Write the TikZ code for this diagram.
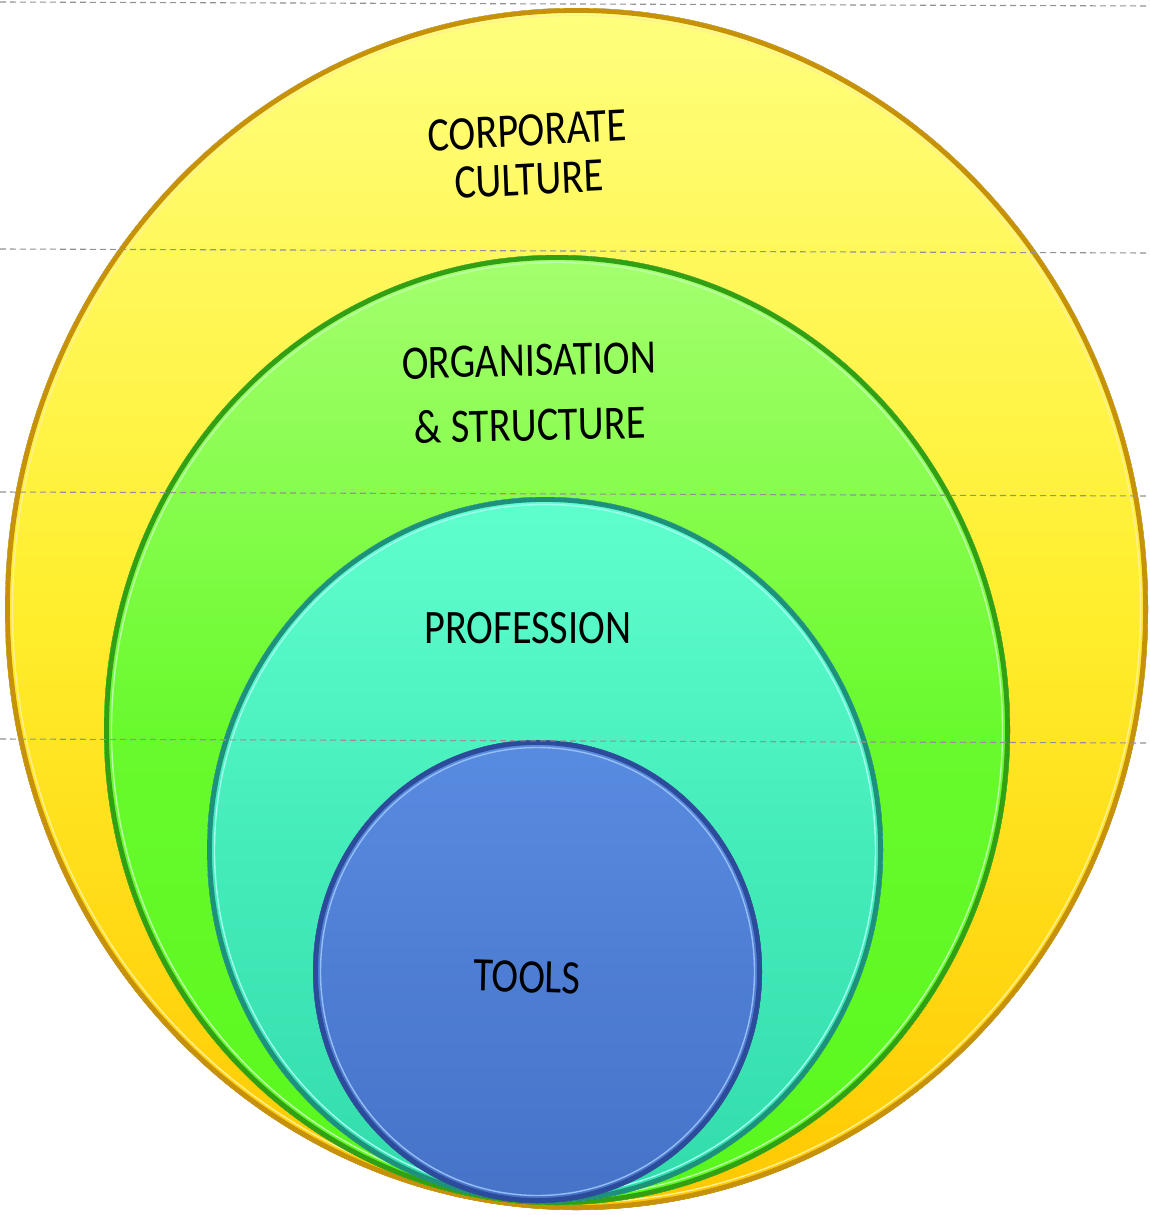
\documentclass[tikz,border=0pt]{standalone}
\usepackage{fontspec}
\setmainfont{Carlito}
\usetikzlibrary{calc}
\definecolor{yLight}{RGB}{255,255,125}
\definecolor{yMid}{RGB}{255,238,45}
\definecolor{yDark}{RGB}{255,200,0}
\definecolor{yRim}{RGB}{200,145,10}
\definecolor{yHi}{RGB}{255,240,150}
\definecolor{gLight}{RGB}{165,255,110}
\definecolor{gMid}{RGB}{105,250,45}
\definecolor{gDark}{RGB}{88,248,28}
\definecolor{gRim}{RGB}{50,160,20}
\definecolor{gHi}{RGB}{190,255,170}
\definecolor{tLight}{RGB}{95,255,205}
\definecolor{tMid}{RGB}{68,236,186}
\definecolor{tDark}{RGB}{50,220,170}
\definecolor{tRim}{RGB}{30,145,125}
\definecolor{tHi}{RGB}{160,255,240}
\definecolor{bLight}{RGB}{88,140,225}
\definecolor{bMid}{RGB}{78,126,212}
\definecolor{bDark}{RGB}{70,115,200}
\definecolor{bRim}{RGB}{45,75,155}
\definecolor{bHi}{RGB}{150,190,245}
\definecolor{guide}{RGB}{145,145,150}
\tikzset{
  disc/.style={shading=axis, shading angle=40},
  rim/.style={line width=2.4pt},
  hilite/.style={line width=0.7pt},
  guideline/.style={draw=guide, line width=0.55pt, dash pattern=on 3pt off 2pt},
  label/.style={font=\fontsize{24}{24.5}\selectfont, text=black, align=center, xscale=0.84, inner sep=0pt},
}
\begin{document}
\begin{tikzpicture}[x=0.5pt,y=-0.5pt]
\useasboundingbox (0,0) rectangle (1150,1215);
% yellow
\fill[disc, top color=yLight, bottom color=yDark, middle color=yMid] (576.5,609) ellipse [x radius=571.5, y radius=601];
\draw[rim, yRim] (576.5,609) ellipse [x radius=569, y radius=598.5];
\draw[hilite, yHi] (576.5,609) ellipse [x radius=564, y radius=593.5];
% green
\fill[disc, top color=gLight, bottom color=gDark, middle color=gMid] (557,730) ellipse [x radius=453, y radius=475];
\draw[rim, gRim] (557,730) ellipse [x radius=450.5, y radius=472.5];
\draw[hilite, gHi] (557,730) ellipse [x radius=445.5, y radius=467.5];
% teal
\fill[disc, top color=tLight, bottom color=tDark, middle color=tMid] (545,850) ellipse [x radius=338, y radius=353];
\draw[rim, tRim] (545,850) ellipse [x radius=335.5, y radius=350.5];
\draw[hilite, tHi] (545,850) ellipse [x radius=330.5, y radius=345.5];
% blue
\fill[disc, top color=bLight, bottom color=bDark, middle color=bMid] (537.5,971.5) ellipse [x radius=224.5, y radius=231.5];
\draw[rim, bRim] (537.5,971.5) ellipse [x radius=222, y radius=229];
\draw[hilite, bHi] (537.5,971.5) ellipse [x radius=217, y radius=224];
% guide lines
\coordinate (g1a) at (0,2);   \coordinate (g1b) at (1150,6);
\coordinate (g2a) at (0,249); \coordinate (g2b) at (1150,253);
\coordinate (g3a) at (0,492); \coordinate (g3b) at (1150,496);
\coordinate (g4a) at (0,739); \coordinate (g4b) at (1150,743);
\draw[guideline] (g1a) -- (g1b);
\draw[guideline] (g2a) -- (g2b);
\draw[guideline] (g3a) -- (g3b);
\draw[guideline] (g4a) -- (g4b);
% labels
\node[label, rotate=2.6] (culture) at (528,155) {CORPORATE\\CULTURE};
\node[label, rotate=1.2, font=\fontsize{24}{32.5}\selectfont] (org) at (529.5,393) {ORGANISATION\\\& STRUCTURE};
\node[label] (prof) at (528,628) {PROFESSION};
\node[label, rotate=-1.5] (tools) at (527,977) {TOOLS};
\end{tikzpicture}
\end{document}
